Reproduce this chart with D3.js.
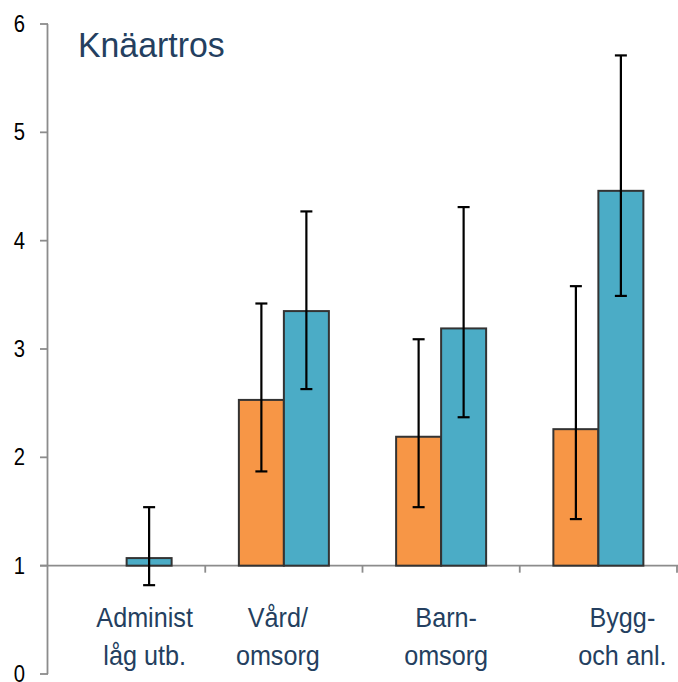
<!DOCTYPE html>
<html><head><meta charset="utf-8">
<script src="https://cdn.jsdelivr.net/npm/d3@7"></script>
<style>body{margin:0;background:#fff}svg{display:block}</style>
</head><body>
<svg id="c" width="678" height="682"></svg>
<script>
const title = "Knäartros";
const categories = [["Administ","låg utb."],["Vård/","omsorg"],["Barn-","omsorg"],["Bygg-","och anl."]];
const seriesNames = ["orange","teal"];
const orangeValues = [null, 2.53, 2.19, 2.26];
const orangeLow    = [null, 1.87, 1.54, 1.43];
const orangeHigh   = [null, 3.42, 3.09, 3.58];
const tealValues   = [1.07, 3.35, 3.19, 4.46];
const tealLow      = [0.82, 2.63, 2.37, 3.49];
const tealHigh     = [1.54, 4.27, 4.31, 5.71];
const yTicks = [0,1,2,3,4,5,6];
const labelDx = [18, -6, 5, 24];

const colors = {orange:"#F79646", teal:"#4BACC6"};
const svg = d3.select("#c");
const y = d3.scaleLinear().domain([0,6]).range([674,24]);
const x = d3.scaleBand().domain(d3.range(categories.length)).range([48,677]).padding(0);
const barW = 45;
const xs = d3.scaleBand().domain(seriesNames).range([0, 2*barW]);
const baseline = 1;

// y axis
svg.append("line").attr("x1",47.5).attr("x2",47.5).attr("y1",y(6)).attr("y2",y(0))
  .attr("stroke","#8c8c8c").attr("stroke-width",1.8);
svg.selectAll(".yt").data(yTicks).join("line")
  .attr("x1",40).attr("x2",48).attr("y1",d=>y(d)).attr("y2",d=>y(d))
  .attr("stroke","#8c8c8c").attr("stroke-width",1.8);
svg.selectAll(".yl").data(yTicks).join("text")
  .attr("transform",d=>`translate(25,${y(d)+8}) scale(0.88,1)`)
  .attr("text-anchor","end").attr("font-family","Liberation Sans, Arial, sans-serif")
  .attr("font-size",23).attr("fill","#000").text(d=>d);

// x axis at baseline
svg.append("line").attr("x1",40).attr("x2",678).attr("y1",y(baseline)).attr("y2",y(baseline))
  .attr("stroke","#8c8c8c").attr("stroke-width",1.8);
svg.selectAll(".xt").data(d3.range(1,categories.length+1)).join("line")
  .attr("x1",d=>d<categories.length? x(d): x(d-1)+x.bandwidth()).attr("x2",d=>d<categories.length? x(d): x(d-1)+x.bandwidth())
  .attr("y1",y(baseline)).attr("y2",y(baseline)+7)
  .attr("stroke","#8c8c8c").attr("stroke-width",1.8);

// bars
const seriesData = [
  {name:"orange", v:orangeValues, lo:orangeLow, hi:orangeHigh},
  {name:"teal", v:tealValues, lo:tealLow, hi:tealHigh}
];
const off = (x.bandwidth() - 2*barW)/2;
seriesData.forEach(s=>{
  const pts = s.v.map((v,i)=>({i,v,lo:s.lo[i],hi:s.hi[i]})).filter(d=>d.v!=null);
  svg.selectAll(null).data(pts).join("rect")
    .attr("x",d=>x(d.i)+off+xs(s.name)).attr("width",barW)
    .attr("y",d=>y(Math.max(d.v,baseline))).attr("height",d=>Math.abs(y(baseline)-y(d.v)))
    .attr("fill",colors[s.name]).attr("stroke","#333").attr("stroke-width",2);
});
seriesData.forEach(s=>{
  const pts = s.v.map((v,i)=>({i,v,lo:s.lo[i],hi:s.hi[i]})).filter(d=>d.v!=null);
  const cx = d=>x(d.i)+off+xs(s.name)+barW/2;
  const g = svg.append("g").attr("stroke","#000").attr("stroke-width",2.2);
  g.selectAll(null).data(pts).join("line").attr("x1",cx).attr("x2",cx).attr("y1",d=>y(d.hi)).attr("y2",d=>y(d.lo));
  g.selectAll(null).data(pts).join("line").attr("x1",d=>cx(d)-6).attr("x2",d=>cx(d)+6).attr("y1",d=>y(d.hi)).attr("y2",d=>y(d.hi));
  g.selectAll(null).data(pts).join("line").attr("x1",d=>cx(d)-6).attr("x2",d=>cx(d)+6).attr("y1",d=>y(d.lo)).attr("y2",d=>y(d.lo));
});

// category labels
const lab = svg.selectAll(".cl").data(categories).join("g")
  .attr("transform",(d,i)=>`translate(${x(i)+x.bandwidth()/2+labelDx[i]},0)`);
lab.each(function(d){
  const g = d3.select(this);
  d.forEach((t,j)=>{
    g.append("text").attr("transform",`translate(0,${627+j*38}) scale(0.9,1)`)
      .attr("text-anchor","middle").attr("font-family","Liberation Sans, Arial, sans-serif")
      .attr("font-size",28).attr("fill","#243F60").text(t);
  });
});

// title
svg.append("text").attr("transform","translate(78,57) scale(0.94,1)")
  .attr("font-family","Liberation Sans, Arial, sans-serif").attr("font-size",36)
  .attr("fill","#243F60").text(title);
</script>
</body></html>
